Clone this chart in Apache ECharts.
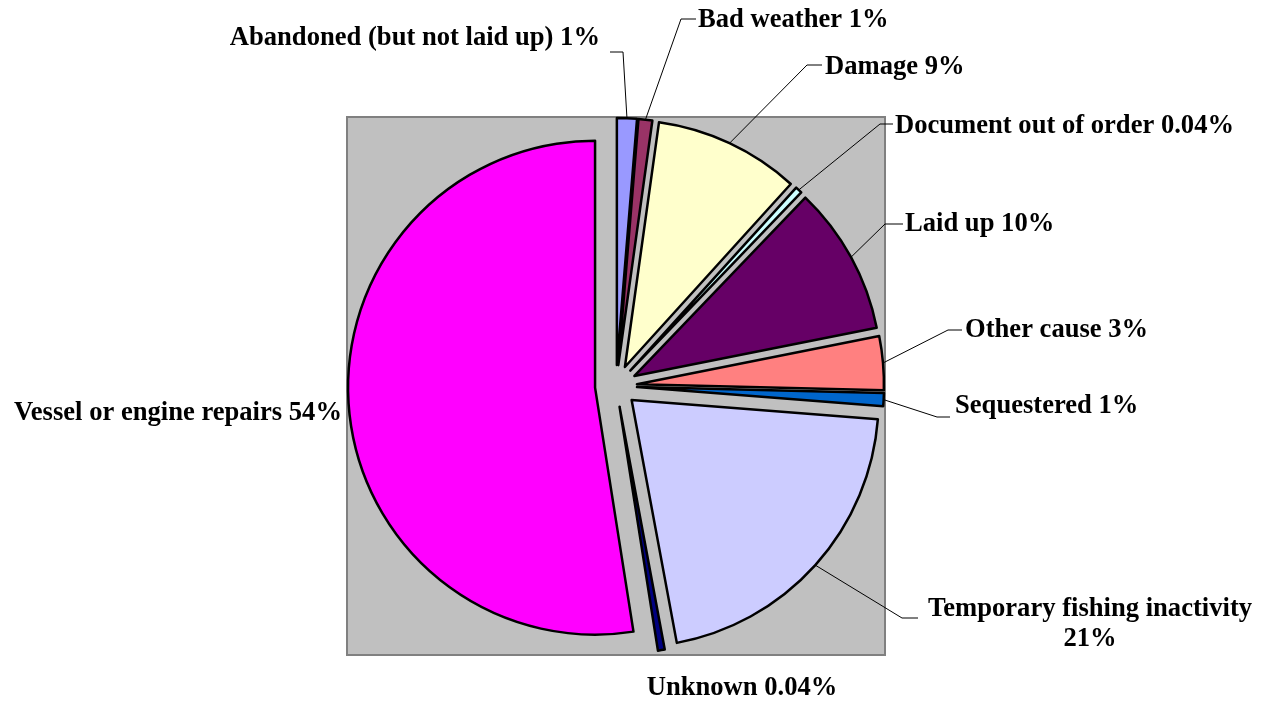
<!DOCTYPE html>
<html><head><meta charset="utf-8">
<script src="https://cdn.jsdelivr.net/npm/echarts@6/dist/echarts.min.js"></script>
<style>html,body{margin:0;padding:0;background:#fff}#chart{width:1267px;height:706px}</style>
</head><body><div id="chart"></div>
<script>
// ---- data ----
const categories = ['Abandoned (but not laid up)', 'Bad weather', 'Damage', 'Document out of order', 'Laid up', 'Other cause', 'Sequestered', 'Temporary fishing inactivity', 'Unknown', 'Vessel or engine repairs'];
const values = [1.3, 0.9, 9.5, 0.04, 9.7, 3.5, 0.85, 20.8, 0.04, 52.4];
const percentLabels = ['1%', '1%', '9%', '0.04%', '10%', '3%', '1%', '21%', '0.04%', '54%'];

// ---- styles / layout ----
const colors = ['#9999FF', '#993366', '#FFFFCC', '#CCFFFF', '#660066', '#FF8080', '#0066CC', '#CCCCFF', '#000080', '#FF00FF'];
const CX = 616, CY = 386, R = 247, OFFSET = 21;
const labelPlaces = [
  {x: 600, y: 38, align: 'right', line: [[623, 52], [610, 52]]},
  {x: 698, y: 20, align: 'left', line: [[681, 19], [696, 19]]},
  {x: 825, y: 67, align: 'left', line: [[807, 65], [822, 65]]},
  {x: 895, y: 126, align: 'left', line: [[880, 124], [893, 124]]},
  {x: 905, y: 224, align: 'left', line: [[885, 224], [903, 224]]},
  {x: 965, y: 330, align: 'left', line: [[948, 330], [962, 330]]},
  {x: 955, y: 406, align: 'left', line: [[937, 417], [950, 417]]},
  {x: 1090, y: 624, align: 'center', line: [[902, 618], [918, 618]]},
  {x: 742, y: 688, align: 'center', line: null},
  {x: 342, y: 413, align: 'right', line: null}
];
const textBreak = {7: '\n'};

const sliceData = categories.map((name, i) => ({
  name: name,
  value: values[i],
  selected: true,
  itemStyle: {color: colors[i]}
}));
const labelData = categories.map((name, i) => ({
  name: name,
  value: values[i],
  labelLine: {show: !!labelPlaces[i].line}
}));

const chart = echarts.init(document.getElementById('chart'), null, {renderer: 'canvas'});
chart.setOption({
  animation: false,
  backgroundColor: '#ffffff',
  graphic: [{
    type: 'rect', z: 0, silent: true,
    shape: {x: CX - R - OFFSET - 1, y: CY - R - OFFSET - 1, width: 2 * (R + OFFSET + 1), height: 2 * (R + OFFSET + 1)},
    style: {fill: '#C0C0C0', stroke: '#808080', lineWidth: 2}
  }],
  series: [{
    // exploded slices
    type: 'pie',
    z: 5,
    center: [CX, CY],
    radius: [0, R],
    startAngle: 90,
    clockwise: true,
    minAngle: 1.6,
    selectedMode: 'multiple',
    selectedOffset: OFFSET,
    avoidLabelOverlap: false,
    silent: true,
    itemStyle: {borderColor: '#000000', borderWidth: 2.5},
    emphasis: {disabled: true},
    select: {itemStyle: {borderColor: '#000000', borderWidth: 2.5}},
    label: {show: false},
    labelLine: {show: false},
    data: sliceData
  }, {
    // transparent twin carrying the labels (outer edge = exploded slice edge)
    type: 'pie',
    z: 6,
    silent: true,
    center: [CX, CY],
    radius: [0, R + OFFSET],
    startAngle: 90,
    clockwise: true,
    minAngle: 1.6,
    selectedMode: false,
    avoidLabelOverlap: false,
    itemStyle: {color: 'rgba(0,0,0,0)', borderWidth: 0},
    emphasis: {disabled: true},
    label: {
      show: true,
      position: 'outside',
      color: '#000000',
      fontFamily: '"Liberation Serif", "Times New Roman", serif',
      fontWeight: 'bold',
      fontSize: 26.6,
      lineHeight: 30,
      formatter: p => p.name + (textBreak[p.dataIndex] || ' ') + percentLabels[p.dataIndex]
    },
    labelLine: {show: true, lineStyle: {color: '#000000', width: 1}},
    labelLayout: function (params) {
      const L = labelPlaces[params.dataIndex];
      const res = {x: L.x, y: L.y, align: L.align, verticalAlign: 'middle'};
      if (L.line && params.labelLinePoints) {
        res.labelLinePoints = [params.labelLinePoints[0], L.line[0], L.line[1]];
      }
      return res;
    },
    data: labelData
  }]
});
</script>
</body></html>
